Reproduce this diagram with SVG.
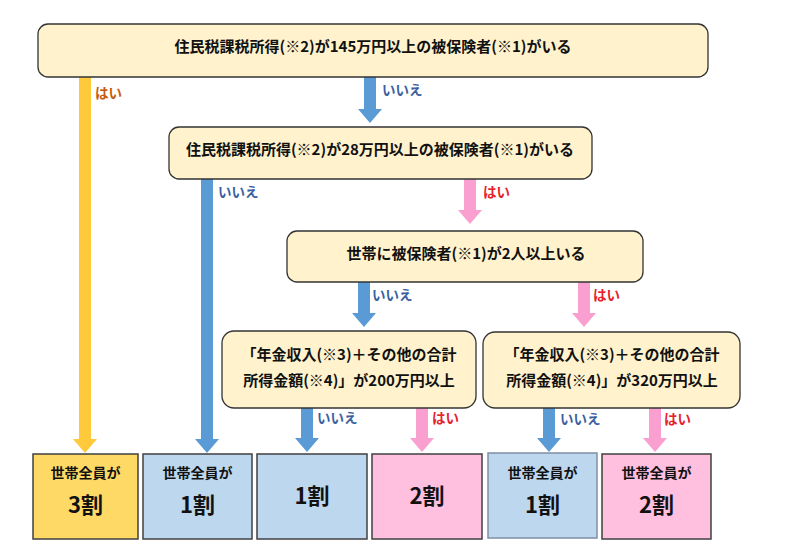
<svg xmlns="http://www.w3.org/2000/svg" width="791" height="554" viewBox="0 0 791 554">
<style>
text{font-family:"Noto Sans CJK JP","Noto Sans",sans-serif;font-weight:700;text-anchor:middle}
.q{fill:#FFF2CC;stroke:#333;stroke-width:1.3}
.q text,.t{font-size:15px;fill:#111}
.r{stroke:#404040;stroke-width:1.5}
.y{fill:#FFD966}.b{fill:#BDD7EE}.p{fill:#FFBFDF}
.s{font-size:14px;fill:#111}
.l{font-size:22px;fill:#111}
.ay{fill:#FFC93C}.ab{fill:#5B9BD5}.ap{fill:#F9A0D0}
.lab{font-size:13.5px;text-anchor:start}
.no{fill:#3B5FA0}.yes{fill:#E8202A}.yo{fill:#C55A11}
</style>
<rect width="791" height="554" fill="#fff"/>
<g id="connectors">
<polygon class="ay" points="79,77 91,77 91,439 97,439 85,453 73,439 79,439"/>
<polygon class="ab" points="364,77 376,77 376,109 382,109 370,123 358,109 364,109"/>
<polygon class="ab" points="201,179 213,179 213,439 219,439 207,453 195,439 201,439"/>
<polygon class="ap" points="464,179 476,179 476,210 482,210 470,224 458,210 464,210"/>
<polygon class="ab" points="358,282 370,282 370,313 376,313 364,327 352,313 358,313"/>
<polygon class="ap" points="578,282 590,282 590,313 596,313 584,327 572,313 578,313"/>
<polygon class="ab" points="301,408 313,408 313,438 319,438 307,452 295,438 301,438"/>
<polygon class="ap" points="416,408 428,408 428,438 434,438 422,452 410,438 416,438"/>
<polygon class="ab" points="543,408 555,408 555,438 561,438 549,452 537,438 543,438"/>
<polygon class="ap" points="649,408 661,408 661,438 667,438 655,452 643,438 649,438"/>
<text class="lab yo" x="95" y="98">はい</text>
<text class="lab no" x="382" y="95">いいえ</text>
<text class="lab no" x="218" y="197">いいえ</text>
<text class="lab yes" x="483" y="197">はい</text>
<text class="lab no" x="372" y="300">いいえ</text>
<text class="lab yes" x="593" y="300">はい</text>
<text class="lab no" x="317" y="423">いいえ</text>
<text class="lab yes" x="432" y="423">はい</text>
<text class="lab no" x="560" y="424">いいえ</text>
<text class="lab yes" x="664" y="424">はい</text>
</g>
<g id="q1" class="q"><rect x="38" y="24" width="670" height="53" rx="10"/><text x="373" y="52" stroke="none">住民税課税所得(※2)が145万円以上の被保険者(※1)がいる</text></g>
<g id="q2" class="q"><rect x="169" y="127" width="423" height="52" rx="10"/><text x="380" y="155" stroke="none">住民税課税所得(※2)が28万円以上の被保険者(※1)がいる</text></g>
<g id="q3" class="q"><rect x="287" y="231" width="356" height="51" rx="10"/><text x="466" y="259" stroke="none">世帯に被保険者(※1)が2人以上いる</text></g>
<g id="q4" class="q"><rect x="222" y="331" width="254" height="77" rx="12"/><text x="349" y="360" stroke="none">「年金収入(※3)＋その他の合計</text><text x="349" y="386" stroke="none">所得金額(※4)」が200万円以上</text></g>
<g id="q5" class="q"><rect x="483" y="332" width="257" height="76" rx="12"/><text x="612" y="360" stroke="none">「年金収入(※3)＋その他の合計</text><text x="612" y="386" stroke="none">所得金額(※4)」が320万円以上</text></g>
<g id="r1"><rect class="r y" x="33" y="454" width="105" height="85"/><text class="s" x="85.5" y="478">世帯全員が</text><text class="l" x="85.5" y="513">3割</text></g>
<g id="r2"><rect class="r b" x="143" y="454" width="109" height="85"/><text class="s" x="197.5" y="478">世帯全員が</text><text class="l" x="197.5" y="513">1割</text></g>
<g id="r3"><rect class="r b" x="257" y="454" width="110" height="85"/><text class="l" x="312" y="504">1割</text></g>
<g id="r4"><rect class="r p" x="372" y="454" width="110" height="85"/><text class="l" x="427" y="504">2割</text></g>
<g id="r5"><rect class="b" x="488" y="453" width="109" height="85" stroke="#7F8FA6" stroke-width="1.5"/><text class="s" x="542.5" y="478">世帯全員が</text><text class="l" x="542.5" y="513">1割</text></g>
<g id="r6"><rect class="r p" x="602" y="454" width="109" height="85"/><text class="s" x="656.5" y="478">世帯全員が</text><text class="l" x="656.5" y="513">2割</text></g>
</svg>
